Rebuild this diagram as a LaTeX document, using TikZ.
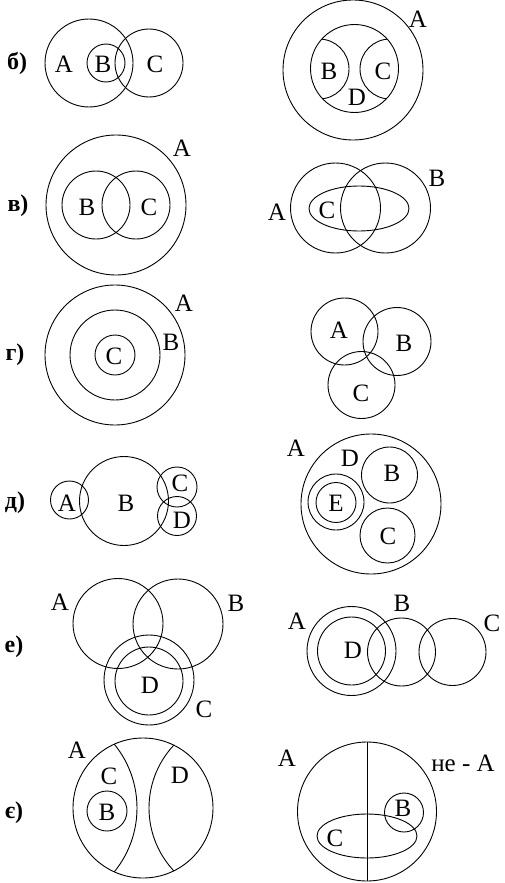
\documentclass[tikz,border=0pt]{standalone}
\usepackage{fontspec}
\setmainfont{Liberation Serif}
\begin{document}
\begin{tikzpicture}[x=1pt,y=-1pt,line width=0.9pt,
  lbl/.style={font=\fontsize{25}{28}\selectfont,inner sep=0pt},
  item/.style={font=\bfseries\fontsize{24}{28}\selectfont,inner sep=0pt}]
\useasboundingbox (0,0) rectangle (504,883);
% ---- б) left
\node[item] (ib) at (17,63) {б)};
\draw (89,63) circle (44);
\draw (106,63) circle (19);
\draw (149,63) circle (34);
\node[lbl] (b1A) at (64,64) {A};
\node[lbl] (b1B) at (103,64) {B};
\node[lbl] (b1C) at (155,64) {C};
% ---- б) right
\draw (353,70) circle (70);
\draw (354.5,68.5) circle (44);
\begin{scope}
  \clip (354.5,68.5) circle (44);
  \draw (319,69) circle (30);
  \draw (390,69) circle (30);
\end{scope}
\node[lbl] (b2A) at (418,19) {A};
\node[lbl] (b2B) at (329,71) {B};
\node[lbl] (b2C) at (383,71) {C};
\node[lbl] (b2D) at (357,97) {D};
% ---- в) left
\node[item] (iv) at (18,206) {в)};
\draw (116,205) circle (70);
\draw (96,205) circle (34);
\draw (136,205) circle (34);
\node[lbl] (v1A) at (182,148) {A};
\node[lbl] (v1B) at (87,207) {B};
\node[lbl] (v1C) at (149,207) {C};
% ---- в) right
\draw (335.5,208) circle (45);
\draw (385.5,208) circle (45);
\draw (359,208.5) ellipse [x radius=50,y radius=22.5];
\node[lbl] (v2A) at (277,212) {A};
\node[lbl] (v2B) at (437,178) {B};
\node[lbl] (v2C) at (327,210) {C};
% ---- г) left
\node[item] (ig) at (15,355) {г)};
\draw (115,355) circle (70);
\draw (115,355) circle (45);
\draw (115,355) circle (20);
\node[lbl] (g1A) at (184,303) {A};
\node[lbl] (g1B) at (171,342) {B};
\node[lbl] (g1C) at (114,356) {C};
% ---- г) right
\draw (344.5,331.5) circle (33.5);
\draw (397,341.5) circle (34);
\draw (361.5,385) circle (33.5);
\node[lbl] (g2A) at (339,330) {A};
\node[lbl] (g2B) at (404,343) {B};
\node[lbl] (g2C) at (361,393) {C};
% ---- д) left
\node[item] (id) at (15,503) {д)};
\draw (69.5,500) circle (19);
\draw (124,501) circle (44.5);
\draw (177,487) circle (20);
\draw (177,516) circle (19.5);
\node[lbl] (d1A) at (67,503) {A};
\node[lbl] (d1B) at (126,503) {B};
\node[lbl] (d1C) at (180,483) {C};
\node[lbl] (d1D) at (182,520) {D};
% ---- д) right
\draw (371,504) circle (70);
\draw (389.5,475) circle (28);
\draw (387.5,535.5) circle (27.5);
\draw (336,502) circle (28);
\draw (336,502.5) circle (20);
\node[lbl] (d2A) at (296,448) {A};
\node[lbl] (d2D) at (350,458) {D};
\node[lbl] (d2B) at (392,473) {B};
\node[lbl] (d2E) at (336,503) {E};
\node[lbl] (d2C) at (388,536) {C};
% ---- е) left
\node[item] (ie) at (14,647) {е)};
\draw (118,623.5) circle (45);
\draw (178,624) circle (45);
\draw (149,680) circle (45);
\draw (149,681) circle (34);
\node[lbl] (e1A) at (60,602) {A};
\node[lbl] (e1B) at (236,603) {B};
\node[lbl] (e1D) at (150,685) {D};
\node[lbl] (e1C) at (204,709) {C};
% ---- е) right
\draw (351.5,651) circle (44.5);
\draw (351.5,651) circle (34);
\draw (401.5,652) circle (34);
\draw (452.5,652) circle (33.5);
\node[lbl] (e2A) at (297,621) {A};
\node[lbl] (e2B) at (402,603) {B};
\node[lbl] (e2C) at (492,623) {C};
\node[lbl] (e2D) at (353,650) {D};
% ---- є) left
\node[item] (iye) at (14,813) {є)};
\draw (143,808) circle (70);
\begin{scope}
  \clip (143,808) circle (70);
  \draw (36,808) circle (101);
  \draw (241,808) circle (92);
\end{scope}
\draw (107,811) circle (20);
\node[lbl] (y1A) at (77,750) {A};
\node[lbl] (y1C) at (109,776) {C};
\node[lbl] (y1B) at (107,812) {B};
\node[lbl] (y1D) at (180,775) {D};
% ---- є) right
\draw (367,811.5) circle (69.5);
\coordinate (vt) at (367,742);
\coordinate (vb) at (367,881);
\draw (vt) -- (vb);
\draw (367,836) ellipse [x radius=50,y radius=22];
\draw (404,812.5) circle (19.5);
\node[lbl] (y2A) at (287,758) {A};
\node[lbl] (y2nA) at (463,763) {не - A};
\node[lbl] (y2B) at (403,808) {B};
\node[lbl] (y2C) at (335,838) {C};
\end{tikzpicture}
\end{document}
